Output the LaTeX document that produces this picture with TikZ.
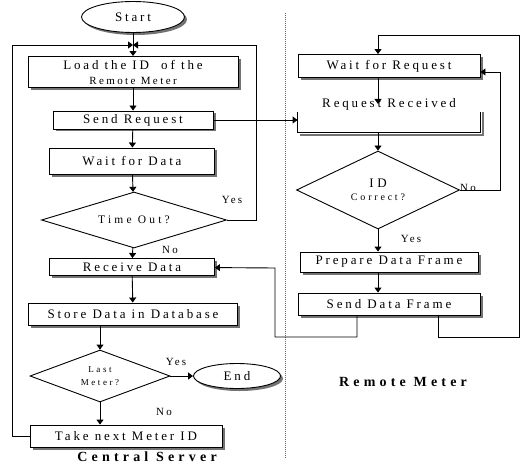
\documentclass[tikz,border=0pt]{standalone}
\usepackage{fontspec}
\setmainfont{Liberation Serif}
\usepackage{tikz}
\usetikzlibrary{arrows.meta}
\usetikzlibrary{shapes.geometric}
\usetikzlibrary{shadows}
\usetikzlibrary{positioning}
\tikzset{arr/.style = {-{Triangle[length = 5pt, width = 7pt]}}}
\tikzset{txt/.style = {font = {\fontsize{13}{15}\selectfont\addfontfeatures{LetterSpace = 22}}}}
\tikzset{shd/.style = {drop shadow = {shadow xshift = 2.5pt, shadow yshift = -2.5pt, fill = black!55, opacity = 1}}}
\tikzset{blk/.style = {draw, rectangle, fill = white, txt, shd, inner sep = 0, align = center}}
\tikzset{dia/.style = {draw, diamond, aspect = 2.5, fill = white, inner sep = 0, align = center,
                       font = {\fontsize{10}{13}\selectfont\addfontfeatures{LetterSpace = 28}}}}
\tikzset{oval/.style = {draw, ellipse, fill = white, txt, shd, inner sep = 0}}
\tikzset{lbl/.style = {inner sep = 0, font = {\fontsize{11}{12}\selectfont\addfontfeatures{LetterSpace = 20}}}}
\tikzset{hdr/.style = {inner sep = 0, font = {\fontsize{14}{16}\selectfont\bfseries\addfontfeatures{LetterSpace = 30}}}}

\begin{document}
\begin{tikzpicture}[x = 1pt, y = -1pt, line width = 0.9pt]
  \useasboundingbox (0, 0) rectangle (521, 465);
  % central server
  \node [oval, minimum width = 103pt, minimum height = 31pt] (start) at (133, 17) {Start};
  \node [blk, minimum width = 210pt, minimum height = 31pt] (load) at (133, 72) {Load the ID \ of the\\{\fontsize{11}{13}\selectfont Remote Meter}};
  \node [blk, minimum width = 160pt, minimum height = 18pt] (send) at (133, 120) {Send Request};
  \node [blk, minimum width = 165pt, minimum height = 26pt] (waitdata) at (132, 161) {Wait for Data};
  \node [dia, minimum width = 185pt, minimum height = 56pt] (timeout) at (134, 220) {{\fontsize{11.5}{13}\selectfont Time Out?}};
  \node [blk, minimum width = 165pt, minimum height = 17pt] (receive) at (132, 267) {Receive Data};
  \node [blk, minimum width = 209pt, minimum height = 22pt] (store) at (133, 314) {Store Data in Database};
  \node [dia, minimum width = 140pt, minimum height = 52pt] (lastm) at (100, 376) {{\fontsize{9}{12}\selectfont Last}\\{\fontsize{9}{12}\selectfont Meter?}};
  \node [oval, minimum width = 87pt, minimum height = 25pt] (end) at (237, 376) {End};
  \node [blk, minimum width = 192pt, minimum height = 22pt] (take) at (126, 436) {Take next Meter ID};
  % remote meter
  \node [blk, minimum width = 182pt, minimum height = 23pt] (waitreq) at (389, 66) {Wait for Request};
  \node [minimum width = 182pt, minimum height = 20pt, inner sep = 0] (reqbox) at (389, 122) {};
  \node [txt, inner sep = 0] (reqtxt) at (389, 104) {Request Received};
  \node [dia, minimum width = 163pt, minimum height = 78pt] (idc) at (378, 190) {{\fontsize{13}{14}\selectfont ID}\\Correct?};
  \node [blk, minimum width = 178pt, minimum height = 20pt] (prep) at (389, 262) {Prepare Data Frame};
  \node [blk, minimum width = 182pt, minimum height = 22pt] (sendfr) at (389, 304) {Send Data Frame};
  % labels
  \node [lbl] (yes1) at (232, 200) {Yes};
  \node [lbl] (no1) at (170, 250) {No};
  \node [lbl] (yes2) at (176, 362) {Yes};
  \node [lbl] (no2) at (164, 412) {No};
  \node [lbl] (no3) at (468, 188) {No};
  \node [lbl] (yes3) at (411, 239) {Yes};
  \node [hdr] (central) at (147, 457) {Central Server};
  \node [hdr] (remote) at (403, 382) {Remote Meter};
  % rails
  \coordinate (lrail) at (12, 45);
  \coordinate (rrail) at (256, 45);
  \coordinate (merge) at (133, 45);
  \coordinate (rcvrail) at (275, 268);
  \coordinate (sfl) at (357, 337);
  \coordinate (sfr) at (438, 337);
  \coordinate (rtop) at (519, 35);
  \coordinate (nrail) at (500, 72);
  \coordinate (sepa) at (285, 13);
  \coordinate (sepb) at (285, 458);
  \draw [densely dotted, line width = 1pt, black!60] (sepa) -- (sepb);
  % open box
  \draw [black!55, line width = 2pt] ([shift = {(2.5, 0)}]reqbox.north east) -- ([shift = {(2.5, 2.5)}]reqbox.south east)
    -- ([shift = {(2.5, 2.5)}]reqbox.south west);
  \draw (reqbox.north west) -- (reqbox.south west) -- (reqbox.south east) -- (reqbox.north east);
  % flow
  \draw [arr] (start) -- (load);
  \draw [arr] (load) -- (send);
  \draw [arr] (send) -- (waitdata);
  \draw [arr] (waitdata) -- (timeout);
  \draw [arr] (timeout) -- (receive);
  \draw [arr] (receive) -- (store);
  \draw [arr] (store.south -| lastm.north) -- (lastm);
  \draw [arr] (lastm) -- (lastm.south |- take.north);
  \draw [arr] (lastm) -- (end);
  \draw [arr] (take) -| (lrail) -- (merge);
  \draw [arr] (timeout) -| (rrail) -- (merge);
  \draw [arr] (send) -- (send -| reqbox.west);
  \draw [arr] (waitreq.south -| idc) -- (reqtxt.center -| idc);
  \draw [arr] (reqbox.south -| idc) -- (idc);
  \draw [arr] (idc) -- (idc |- prep.north);
  \draw [arr] (prep.south -| idc) -- (sendfr.north -| idc);
  \draw [arr] (sendfr.south -| sfl) -- (sfl) -| (rcvrail) -- (receive);
  \draw [arr] (sendfr.south -| sfr) -- (sfr) -| (rtop) -| (waitreq.north -| idc);
  \draw [arr] (idc) -| (nrail) -- (waitreq.east |- nrail);
\end{tikzpicture}
\end{document}
